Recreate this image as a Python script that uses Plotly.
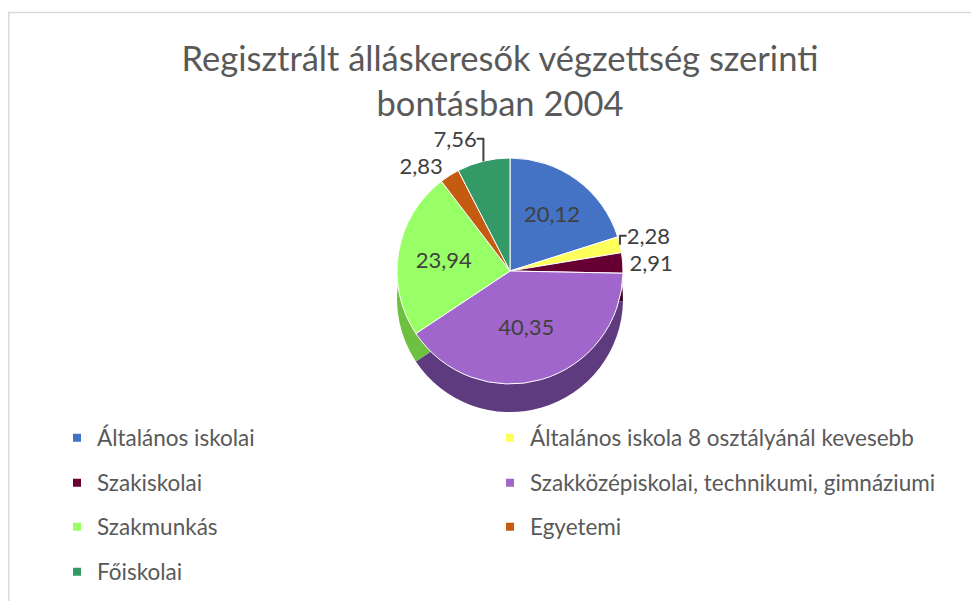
import plotly.graph_objects as go

categories = [
    "Általános iskolai",
    "Általános iskola 8 osztályánál kevesebb",
    "Szakiskolai",
    "Szakközépiskolai, technikumi, gimnáziumi",
    "Szakmunkás",
    "Egyetemi",
    "Főiskolai",
]
values = [20.12, 2.28, 2.91, 40.35, 23.94, 2.83, 7.56]
colors = ["#4472C4", "#FFFF5B", "#660033", "#A066CC", "#99FF66", "#C55A11", "#339966"]
side_colors = ["#2F5597", "#BFBF40", "#400020", "#5E3A7E", "#6EC040", "#8A3E0B", "#226644"]
text_positions = ["inside", "outside", "outside", "inside", "inside", "outside", "outside"]
title_text = "Regisztrált álláskeresők végzettség szerinti<br>bontásban 2004"

W, H = 979, 601
FONT = "Lato"

cx, cy, d = 502, 263, 226
depth = 28

def px_dom_x(a, b):
    return [a / W, b / W]

def px_dom_y(top, bottom):
    return [1 - bottom / H, 1 - top / H]

fig = go.Figure()

# side of the pie (3D look)
fig.add_trace(go.Pie(
    labels=categories,
    values=values,
    sort=False,
    direction="clockwise",
    rotation=0,
    marker=dict(colors=side_colors, line=dict(color="#FFFFFF", width=0)),
    textinfo="none",
    hoverinfo="skip",
    showlegend=False,
    domain=dict(x=px_dom_x(cx - d / 2, cx + d / 2),
                y=px_dom_y(cy - d / 2 + depth, cy + d / 2 + depth)),
))

fig.add_trace(go.Pie(
    labels=categories,
    values=values,
    sort=False,
    direction="clockwise",
    rotation=0,
    marker=dict(colors=colors, line=dict(color="#FFFFFF", width=1)),
    texttemplate="%{value:.2f}",
    textposition=text_positions,
    insidetextorientation="horizontal",
    textfont=dict(family=FONT, size=22, color="#404040"),
    outsidetextfont=dict(family=FONT, size=22, color="#404040"),
    insidetextfont=dict(family=FONT, size=22, color="#404040"),
    hovertemplate="%{label}: %{value}<extra></extra>",
    showlegend=False,
    domain=dict(x=px_dom_x(cx - d / 2, cx + d / 2),
                y=px_dom_y(cy - d / 2, cy + d / 2)),
))

# legend entries laid out in two columns
col_x = [49, 482]
row_y = [430, 475, 519, 564]
legend_layouts = {}
for i, (cat, col) in enumerate(zip(categories, colors)):
    key = "legend" if i == 0 else f"legend{i + 1}"
    fig.add_trace(go.Scatter(
        x=[None], y=[None], mode="markers",
        marker=dict(symbol="square", size=8, color=col),
        name=cat, legend=key, showlegend=True, hoverinfo="skip",
    ))
    legend_layouts[key] = dict(
        x=col_x[i % 2] / W, xanchor="left",
        y=1 - row_y[i // 2] / H, yanchor="middle",
        bgcolor="rgba(0,0,0,0)",
        itemsizing="trace",
        font=dict(family=FONT, size=22.5, color="#595959"),
    )

fig.update_layout(
    width=W,
    height=H,
    margin=dict(l=0, r=0, t=0, b=0),
    paper_bgcolor="#FFFFFF",
    plot_bgcolor="#FFFFFF",
    separators=", ",
    font=dict(family=FONT, color="#595959"),
    xaxis=dict(visible=False),
    yaxis=dict(visible=False),
    title=dict(
        text=title_text,
        x=492 / W,
        xanchor="center",
        y=1 - 63 / H,
        yanchor="top",
        font=dict(family=FONT, size=34.5, color="#595959"),
    ),
    shapes=[
        dict(type="rect", xref="paper", yref="paper",
             x0=0.8 / W, x1=1.05, y0=-0.05, y1=1 - 4.5 / H,
             line=dict(color="#D9D9D9", width=1.5), fillcolor="rgba(0,0,0,0)"),
    ],
    **legend_layouts,
)

fig.write_html("out.html")
